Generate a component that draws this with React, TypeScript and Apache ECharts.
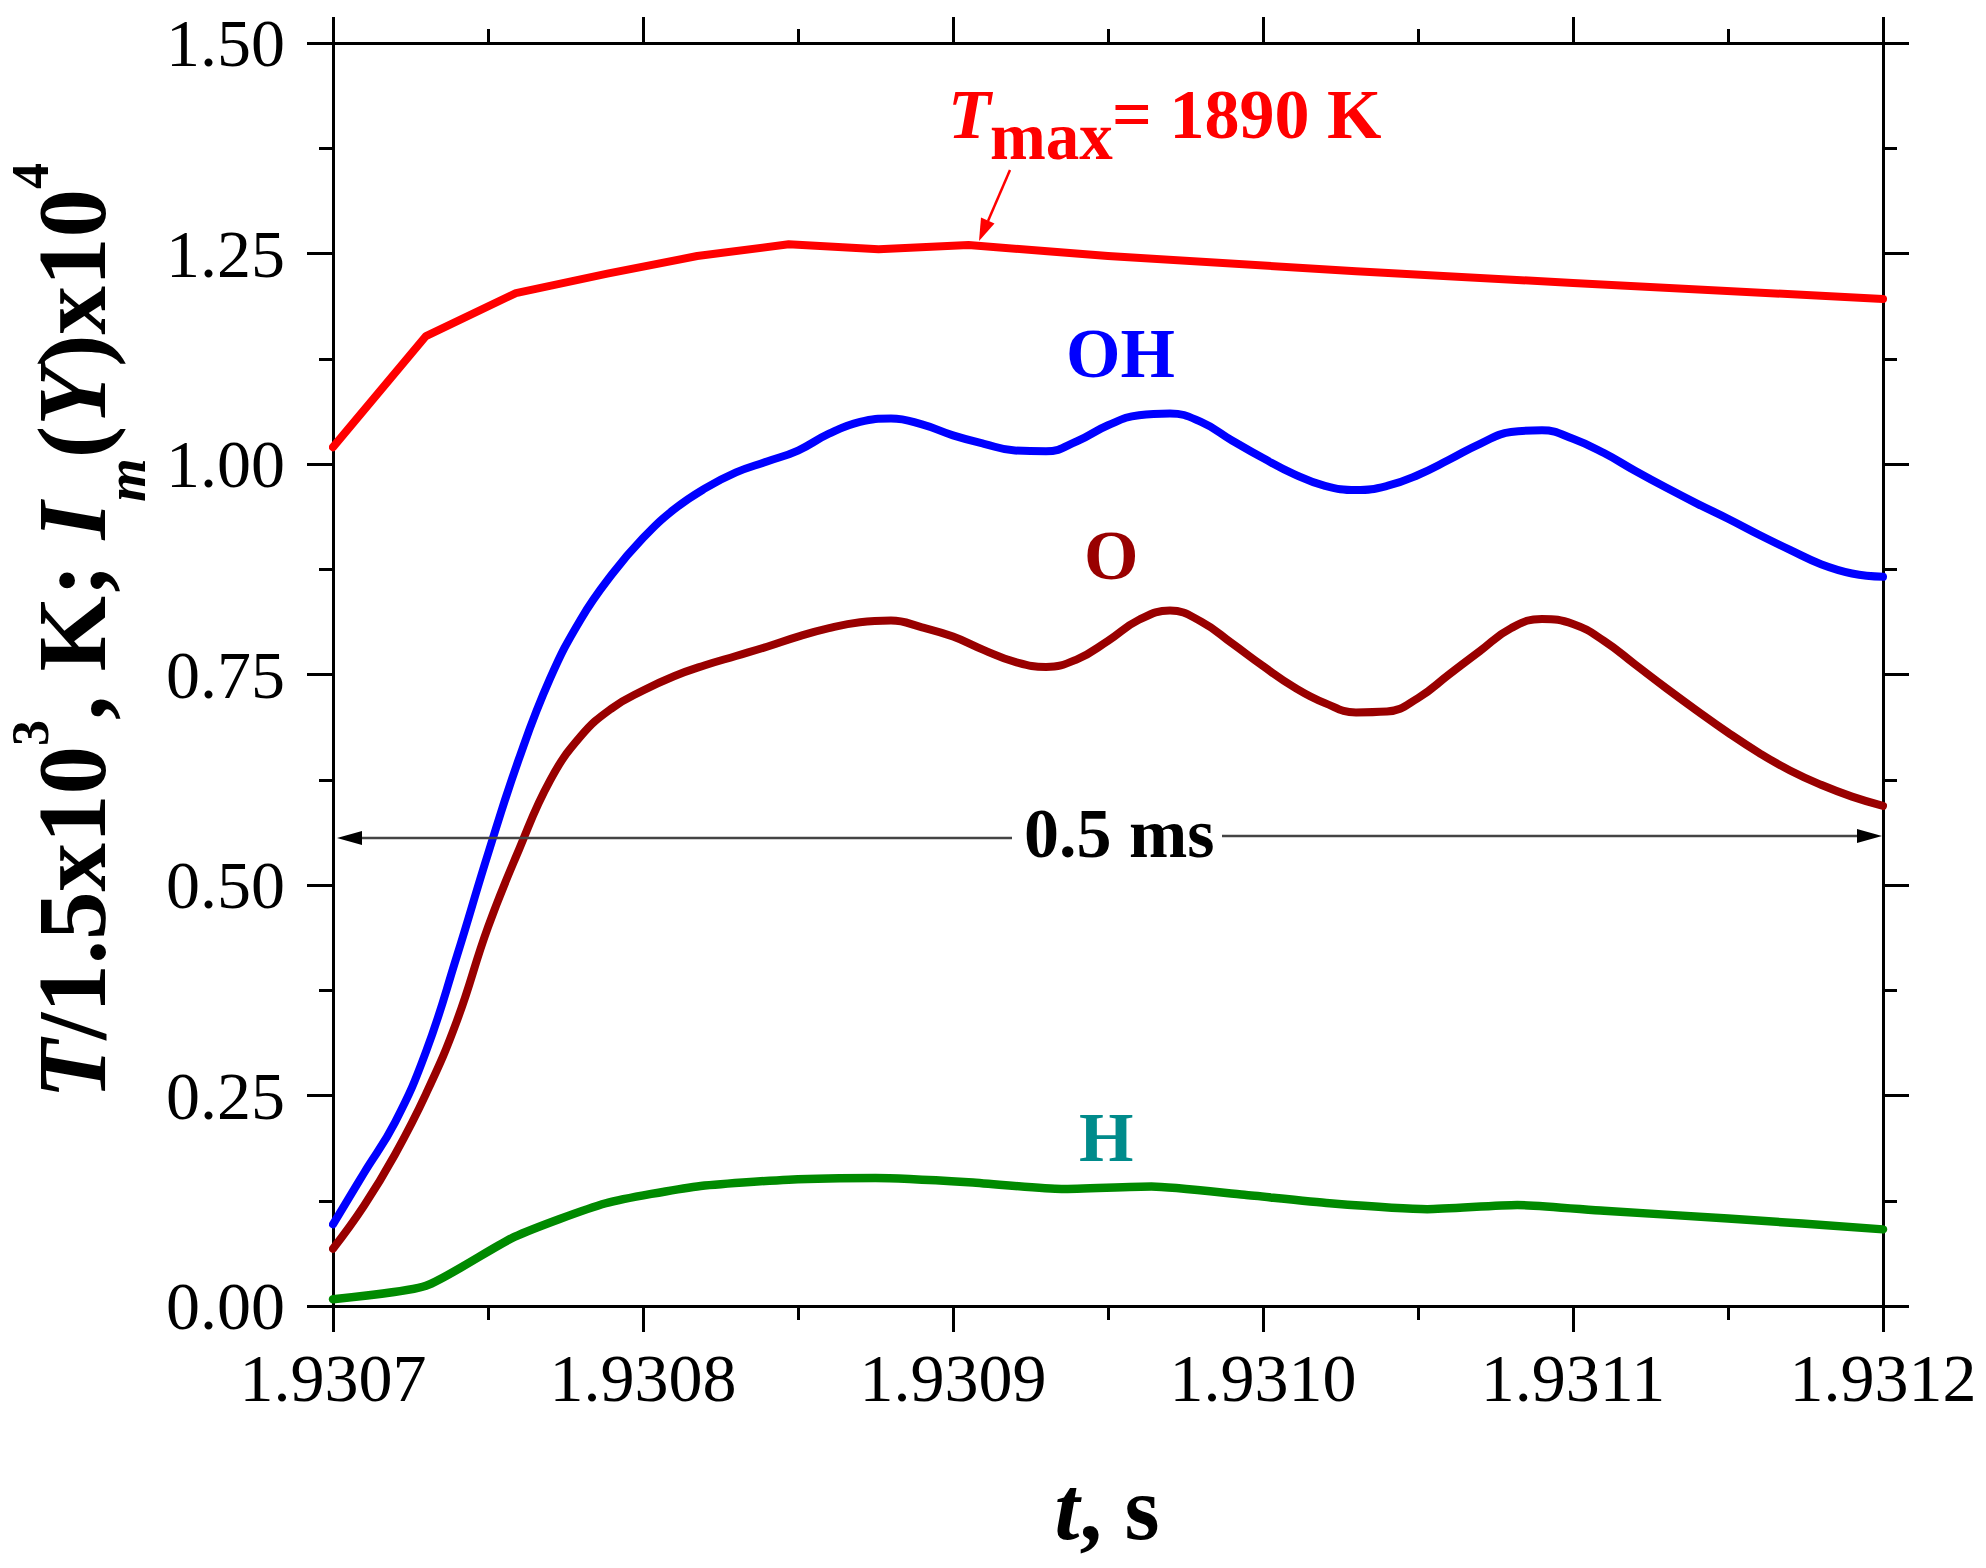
import React, { useEffect, useRef } from 'react';
import * as echarts from 'echarts';

const FONT = "'Liberation Serif', 'Times New Roman', serif";

// Axis ranges / ticks
const X_MIN = 1.9307;
const X_MAX = 1.9312;
const X_STEP = 0.0001;
const Y_MIN = 0;
const Y_MAX = 1.5;
const Y_STEP = 0.25;

// Temperature T / 1.5e3 K (red, piecewise line)
const tempTime = [1.9307, 1.93073, 1.930759, 1.9307885, 1.9308175, 1.930847, 1.930876, 1.930905, 1.93095, 1.93103, 1.9311, 1.9312];
const tempVal = [1.02, 1.152, 1.203, 1.226, 1.247, 1.261, 1.255, 1.26, 1.247, 1.229, 1.215, 1.196];

// Common time grid for the emission curves
const gridTime = [
  1.9307, 1.93071, 1.93072, 1.93073, 1.93074, 1.93075, 1.93076, 1.93077, 1.93078, 1.93079,
  1.9308, 1.93081, 1.93082, 1.93083, 1.93084, 1.93085, 1.93086, 1.93087, 1.93088, 1.93089,
  1.9309, 1.93091, 1.93092, 1.93093, 1.93094, 1.93095, 1.93096, 1.93097, 1.93098, 1.93099,
  1.931, 1.93101, 1.93102, 1.93103, 1.93104, 1.93105, 1.93106, 1.93107, 1.93108, 1.93109,
  1.9311, 1.93111, 1.93112, 1.93113, 1.93114, 1.93115, 1.93116, 1.93117, 1.93118, 1.93119,
  1.9312,
];

// OH emission (blue)
const ohVal = [
  0.097, 0.158, 0.218, 0.302, 0.416, 0.537, 0.65, 0.745, 0.816, 0.869,
  0.912, 0.946, 0.971, 0.99, 1.003, 1.016, 1.036, 1.05, 1.054, 1.047,
  1.034, 1.024, 1.016, 1.015, 1.027, 1.046, 1.058, 1.06, 1.05, 1.028,
  1.007, 0.988, 0.974, 0.969, 0.974, 0.987, 1.005, 1.024, 1.038, 1.04,
  1.03, 1.013, 0.992, 0.972, 0.953, 0.935, 0.916, 0.898, 0.881, 0.87,
  0.866,
];

// O emission (dark red)
const oVal = [
  0.068, 0.119, 0.18, 0.252, 0.339, 0.45, 0.542, 0.624, 0.677, 0.71,
  0.731, 0.748, 0.761, 0.772, 0.783, 0.795, 0.805, 0.812, 0.814, 0.806,
  0.795, 0.779, 0.765, 0.759, 0.768, 0.79, 0.815, 0.826, 0.813, 0.787,
  0.76, 0.735, 0.716, 0.705, 0.706, 0.722, 0.75, 0.778, 0.805, 0.816,
  0.81, 0.79, 0.762, 0.734, 0.707, 0.681, 0.657, 0.636, 0.619, 0.605,
  0.594,
];

// H emission (green)
const hTime = [1.9307, 1.93073, 1.9307585, 1.930788, 1.9308175, 1.930847, 1.930875, 1.930905, 1.930935, 1.930964, 1.930994, 1.9310215, 1.931053, 1.931082, 1.93111, 1.93115, 1.9312];
const hVal = [0.008, 0.024, 0.082, 0.122, 0.142, 0.15, 0.152, 0.147, 0.139, 0.142, 0.132, 0.122, 0.115, 0.12, 0.113, 0.104, 0.091];

// Y-axis title pieces: text, size, italic, role (main / sup / sub)
const yTitleText = ['T', '/1.5x10', '3', ', K; ', 'I', 'm', '(', 'Y', ')x10', '4'];
const yTitleRole = ['it', 'b', 'sup', 'b', 'it', 'sub', 'b', 'it', 'b', 'sup'];

const zip = (a: number[], b: number[]) => a.map((t, i) => [t, b[i]]);

const RED = '#ff0000';
const BLUE = '#0000ff';
const DARKRED = '#990000';
const GREEN = '#008a00';
const TEAL = '#008b8b';

function baseX(position: 'bottom' | 'top', labels: boolean) {
  return {
    type: 'value',
    gridIndex: 0,
    position,
    min: X_MIN,
    max: X_MAX,
    interval: X_STEP,
    axisLine: { show: true, onZero: false, lineStyle: { color: '#000', width: 3 } },
    axisTick: { show: true, inside: false, length: 26, lineStyle: { color: '#000', width: 3 } },
    minorTick: { show: true, splitNumber: 2, length: 14, lineStyle: { color: '#000', width: 3 } },
    splitLine: { show: false },
    minorSplitLine: { show: false },
    axisLabel: {
      show: labels,
      formatter: (v: number) => v.toFixed(4),
      fontSize: 68,
      fontFamily: FONT,
      color: '#000',
      margin: 38,
      showMinLabel: true,
      showMaxLabel: true,
    },
  };
}

function baseY(position: 'left' | 'right', labels: boolean) {
  return {
    type: 'value',
    gridIndex: 0,
    position,
    min: Y_MIN,
    max: Y_MAX,
    interval: Y_STEP,
    axisLine: { show: true, onZero: false, lineStyle: { color: '#000', width: 3 } },
    axisTick: { show: true, inside: false, length: 26, lineStyle: { color: '#000', width: 3 } },
    minorTick: { show: true, splitNumber: 2, length: 14, lineStyle: { color: '#000', width: 3 } },
    splitLine: { show: false },
    minorSplitLine: { show: false },
    axisLabel: {
      show: labels,
      formatter: (v: number) => v.toFixed(2),
      fontSize: 68,
      fontFamily: FONT,
      color: '#000',
      margin: 48,
      showMinLabel: true,
      showMaxLabel: true,
    },
  };
}

function lineSeries(name: string, t: number[], v: number[], color: string, width: number, smooth: number | boolean) {
  return {
    name,
    type: 'line',
    xAxisIndex: 0,
    yAxisIndex: 0,
    data: zip(t, v),
    showSymbol: false,
    symbol: 'none',
    smooth,
    lineStyle: { color, width, cap: 'round', join: 'round' },
    itemStyle: { color },
    z: 3,
  };
}

export default function App() {
  const ref = useRef<HTMLDivElement>(null);

  useEffect(() => {
    if (!ref.current) return;
    const chart = echarts.init(ref.current, undefined, { renderer: 'svg' });

    const txt = (text: string, x: number, y: number, color: string, size: number, extra: any = {}) => ({
      type: 'text',
      x,
      y,
      z: 10,
      style: {
        text,
        fill: color,
        fontSize: size,
        fontFamily: FONT,
        fontWeight: 'bold',
        align: 'left',
        verticalAlign: 'middle',
        ...extra,
      },
    });

    // Build rotated y-axis title from pieces, measured with canvas
    const roleStyle: any = {
      b: { size: 97, italic: false, x: 72 },
      it: { size: 97, italic: true, x: 72 },
      sup: { size: 52, italic: false, x: 30 },
      sub: { size: 56, italic: true, x: 126 },
    };
    const canvas = document.createElement('canvas');
    const ctx = canvas.getContext('2d') as CanvasRenderingContext2D;
    const widths = yTitleText.map((s, i) => {
      const st = roleStyle[yTitleRole[i]];
      ctx.font = `${st.italic ? 'italic ' : ''}bold ${st.size}px ${FONT}`;
      return ctx.measureText(s).width;
    });
    const total = widths.reduce((a, b) => a + b, 0);
    let cursor = 631 + total / 2;
    const yTitle = yTitleText.map((s, i) => {
      const st = roleStyle[yTitleRole[i]];
      const el = {
        type: 'text',
        x: st.x,
        y: cursor,
        rotation: Math.PI / 2,
        z: 10,
        style: {
          text: s,
          fill: '#000',
          fontSize: st.size,
          fontFamily: FONT,
          fontWeight: 'bold',
          fontStyle: st.italic ? 'italic' : 'normal',
          align: 'left',
          verticalAlign: 'middle',
        },
      };
      cursor -= widths[i];
      return el;
    });

    const option: any = {
      animation: false,
      backgroundColor: '#ffffff',
      grid: { left: 333, top: 43, right: 103, bottom: 262, containLabel: false },
      xAxis: [baseX('bottom', true), baseX('top', false)],
      yAxis: [baseY('left', true), baseY('right', false)],
      series: [
        lineSeries('T', tempTime, tempVal, RED, 8, false),
        lineSeries('OH', gridTime, ohVal, BLUE, 8, 0.45),
        lineSeries('O', gridTime, oVal, DARKRED, 8, 0.45),
        lineSeries('H', hTime, hVal, GREEN, 8.5, 0.2),
      ],
      graphic: [
        ...yTitle,
        // X axis title
        {
          type: 'text',
          x: 1107,
          y: 1508,
          z: 10,
          style: {
            text: '{it|t}{b|, s}',
            align: 'center',
            verticalAlign: 'middle',
            rich: {
              b: { fontSize: 90, fontWeight: 'bold', fontFamily: FONT, fill: '#000' },
              it: { fontSize: 90, fontWeight: 'bold', fontStyle: 'italic', fontFamily: FONT, fill: '#000' },
            },
          },
        },
        // T_max label
        txt('T', 948, 114, RED, 70, { fontStyle: 'italic' }),
        txt('max', 990, 136, RED, 67),
        txt('= 1890 K', 1112, 114, RED, 70),
        // red arrow to maximum
        { type: 'line', z: 10, shape: { x1: 1010, y1: 170, x2: 988, y2: 221 }, style: { stroke: RED, lineWidth: 2.5 } },
        { type: 'polygon', z: 10, shape: { points: [[979, 241], [994.5, 223.5], [981, 217.5]] }, style: { fill: RED } },
        // species labels
        txt('OH', 1066, 353, BLUE, 70),
        txt('O', 1084, 555, DARKRED, 70),
        txt('H', 1079, 1137, TEAL, 70),
        // 0.5 ms double arrow
        txt('0.5 ms', 1024, 833, '#000', 70),
        { type: 'line', z: 10, shape: { x1: 356, y1: 838, x2: 1012, y2: 838 }, style: { stroke: '#444', lineWidth: 2.5 } },
        { type: 'polygon', z: 10, shape: { points: [[337, 838], [362, 831], [362, 845]] }, style: { fill: '#000' } },
        { type: 'line', z: 10, shape: { x1: 1222, y1: 836, x2: 1864, y2: 836 }, style: { stroke: '#444', lineWidth: 2.5 } },
        { type: 'polygon', z: 10, shape: { points: [[1882, 836], [1857, 829], [1857, 843]] }, style: { fill: '#000' } },
      ],
    };

    chart.setOption(option);
    return () => {
      chart.dispose();
    };
  }, []);

  return (
    <div
      ref={ref}
      style={{ position: 'absolute', left: 0, top: 0, width: 1986, height: 1568, background: '#fff' }}
    />
  );
}
